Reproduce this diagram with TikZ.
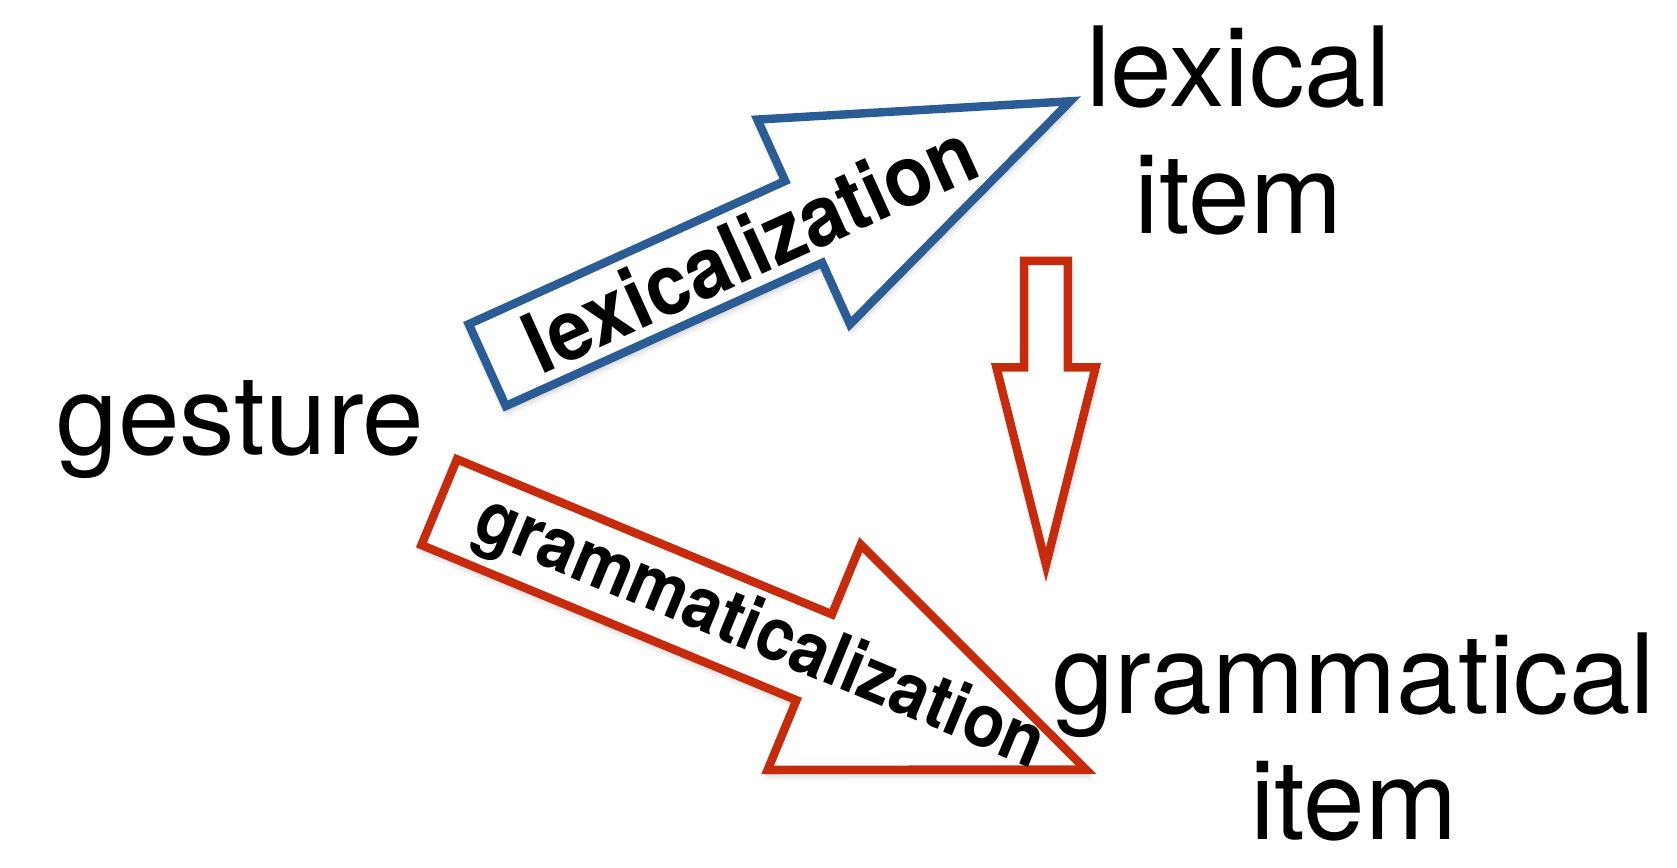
\documentclass[tikz,border=0pt]{standalone}
\usepackage{fontspec}
\setmainfont{TeX Gyre Heros}
\usepackage{tikz}
\usetikzlibrary{shapes.arrows, positioning, calc, shadows.blur}
\definecolor{lexblue}{RGB}{42,92,150}
\definecolor{gramred}{RGB}{200,42,12}

\begin{document}
\begin{tikzpicture}[
  x=0.010695cm, y=-0.010695cm,
  word/.style={align=center, font=\fontsize{31.5}{36}\selectfont, inner sep=0pt},
  fat/.style={single arrow, line width=2.4pt, fill=white, inner xsep=0pt, anchor=tail,
              text height=0pt, text depth=0pt,
              blur shadow={shadow xshift=0.4pt, shadow yshift=-1.2pt, shadow blur radius=2pt, shadow opacity=30}},
  tag/.style={inner sep=0pt, font=\bfseries}
]
  \path[use as bounding box] (0,0) rectangle (1568,811);
  % words
  \node[word, anchor=base] (gesture) at (225,425) {gesture};
  \node[word, anchor=base] (lexical) at (1158,218) {lexical\\item};
  \node[word, anchor=base] (grammatical) at (1266,785) {grammatical\\item};
  % fat arrows
  \node[fat, draw=lexblue, rotate=24.35, minimum height=6.40cm, inner ysep=0.407cm,
        single arrow head extend=0.674cm, single arrow tip angle=42] (lexarr) at (452,343) {};
  \node[fat, draw=gramred, rotate=-22.47, minimum height=7.00cm, inner ysep=0.422cm,
        single arrow head extend=0.754cm, single arrow tip angle=45] (gramarr) at (407,468) {};
  \node[fat, draw=gramred, rotate=-90, minimum height=3.04cm, inner ysep=0.176cm,
        single arrow head extend=0.278cm, single arrow tip angle=28.2] (downarr) at (978,240) {};
  % arrow labels
  \node[tag, rotate=24.35] (lexlabel) at ($(lexarr.tail)!0.445!(lexarr.tip)$)
    {\fontsize{24}{24}\selectfont\scalebox{0.93}[1]{lexicalization}};
  \node[tag, rotate=-22.47] (gramlabel) at ($(gramarr.tail)!0.49!(gramarr.tip)$)
    {\fontsize{21}{21}\selectfont\scalebox{0.91}[1]{grammaticalization}};
\end{tikzpicture}
\end{document}
